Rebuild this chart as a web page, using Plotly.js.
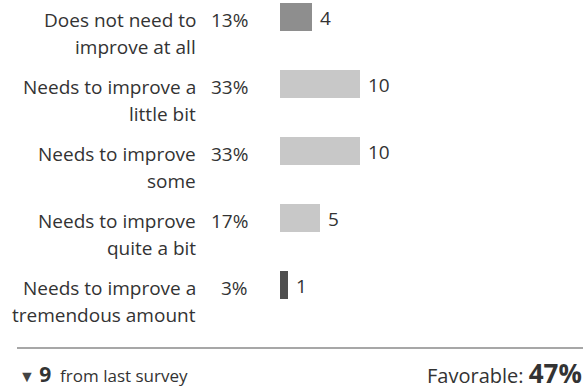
<!DOCTYPE html>
<html>
<head>
<meta charset="utf-8">
<script src="https://cdn.plot.ly/plotly-3.0.1.min.js"></script>
<style>html,body{margin:0;padding:0;background:#fff;}#chart{width:587px;height:391px;}</style>
</head>
<body>
<div id="chart"></div>
<script>
// ---- data ----
const categories = [
  "Does not need to<br>improve at all",
  "Needs to improve a<br>little bit",
  "Needs to improve<br>some",
  "Needs to improve<br>quite a bit",
  "Needs to improve a<br>tremendous amount"
];
const counts = [4, 10, 10, 5, 1];
const barColors = ["#8e8e8e", "#c8c8c8", "#c8c8c8", "#c8c8c8", "#4f4f4f"];
const changeFromLast = 9;
const favorableLabel = "Favorable:";
const favorableCount = 14; // first two categories

// ---- layout helpers ----
const W = 587, H = 391, ML = 280, MR = 27, MT = 0, MB = 91;
const PW = W - ML - MR, PH = H - MT - MB;
const px2x = p => (p - ML) / PW;
const px2y = p => (PH - (p - MT)) / PH;
const FONT = "'Open Sans', sans-serif";
const TXT = "#333333";
const FS = 19;

const total = counts.reduce((a, b) => a + b, 0);
const pct = counts.map(v => Math.round(v / total * 100) + "%");
const idx = categories.map((c, i) => i);

const trace = {
  type: "bar",
  orientation: "h",
  x: counts,
  y: idx,
  width: 28 / 67,
  marker: {color: barColors, line: {width: 0}},
  hoverinfo: "skip"
};

const annotations = [];
categories.forEach((c, i) => {
  const lines = c.split("<br>");
  lines.forEach((ln, j) => {
    annotations.push({
      xref: "paper", yref: "y", x: 0, y: i, xanchor: "right", yanchor: "middle",
      xshift: -82, yshift: -2.5 - 27 * j, text: ln, showarrow: false,
      font: {family: FONT, size: FS, color: TXT}
    });
  });
  annotations.push({
    xref: "paper", yref: "y", x: 0, y: i, xanchor: "right", yanchor: "middle",
    xshift: -30, yshift: -2.5, text: pct[i], showarrow: false,
    font: {family: FONT, size: FS, color: TXT}
  });
  annotations.push({
    xref: "x", yref: "y", x: counts[i], y: i, xanchor: "left", yanchor: "middle",
    xshift: 6, yshift: -1, text: String(counts[i]), showarrow: false,
    font: {family: FONT, size: FS, color: TXT}
  });
});

annotations.push({
  xref: "paper", yref: "paper", x: px2x(17), y: px2y(374), xanchor: "left", yanchor: "middle",
  text: '<span style="font-size:16px;color:#444">▼</span> <b style="font-size:21px">' + changeFromLast + '</b>  from last survey',
  showarrow: false, font: {family: FONT, size: 17, color: TXT}
});
annotations.push({
  xref: "paper", yref: "paper", x: px2x(584), y: px2y(373), xanchor: "right", yanchor: "middle",
  text: favorableLabel + ' <b style="font-size:26px">' + Math.round(favorableCount / total * 100) + '%</b>',
  showarrow: false, font: {family: FONT, size: 20, color: TXT}
});

const layout = {
  width: W, height: H,
  margin: {l: ML, r: MR, t: MT, b: MB, pad: 0},
  paper_bgcolor: "#ffffff", plot_bgcolor: "#ffffff",
  showlegend: false,
  xaxis: {range: [0, 35], visible: false, fixedrange: true},
  yaxis: {range: [(PH - 17) / 67, -17 / 67], visible: false, fixedrange: true},
  shapes: [{
    type: "line", xref: "paper", yref: "paper",
    x0: px2x(17), x1: px2x(583), y0: px2y(348), y1: px2y(348),
    line: {color: "#8a8a8a", width: 1.5}
  }],
  annotations: annotations
};

Plotly.newPlot("chart", [trace], layout, {displayModeBar: false, staticPlot: true});
</script>
</body>
</html>
